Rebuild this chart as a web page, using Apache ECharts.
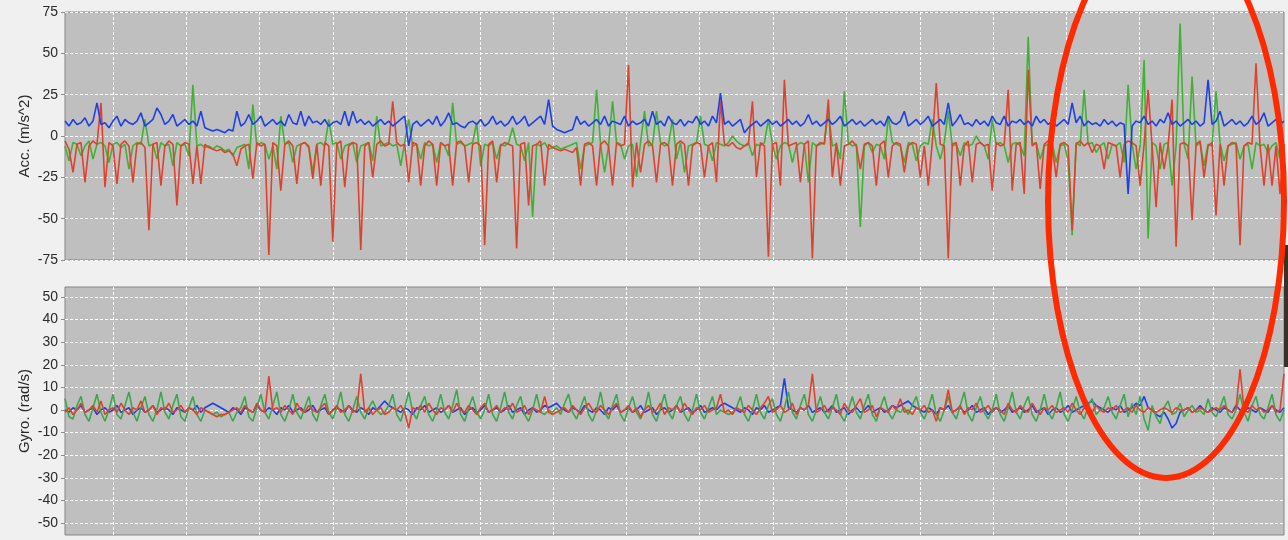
<!DOCTYPE html>
<html>
<head>
<meta charset="utf-8">
<script src="https://cdn.jsdelivr.net/npm/echarts@6/dist/echarts.min.js"></script>
<style>
  html, body { margin: 0; padding: 0; background: #f0f0f0; }
  #chart { width: 1288px; height: 540px; }
</style>
</head>
<body>
<div id="chart"></div>
<script>
// one value per sample
const accRed = [
  -3, -8, -22, -5, -4, -28, -6, -3, -5, 20,
  -31, -4, -6, -29, -5, -3, -6, -28, -5, -4,
  -7, -57, -5, -4, -30, -6, -3, -5, -42, -6,
  -4, -5, -29, -6, -29, -5, -7, -8, -9, -8,
  -10, -9, -11, -18, -8, -6, -5, -26, -4, -6,
  -5, -72, -4, -6, -33, -5, -3, -6, -29, -5,
  -4, -7, -26, -5, -30, -4, -6, -64, -5, -3,
  -31, -6, -4, -5, -69, -6, -4, -25, -5, -3,
  -6, -5, 21, -4, -6, -5, -28, -4, -5, -30,
  -6, -3, -5, -30, -4, -6, -5, -30, -4, -3,
  -6, -28, -5, -4, -6, -66, -5, -3, -28, -6,
  -4, -5, -6, -68, -5, -4, -42, -6, -5, -3,
  -30, -5, -7, -8, -9, -8, -9, -10, -7, -30,
  -5, -4, -6, -30, -5, -3, -6, -30, -4, -6,
  -5, 43, -31, -4, -22, -5, -3, -6, -28, -5,
  -4, -6, -30, -5, -3, -5, -30, -6, -4, -5,
  -25, -6, -4, -28, 21, -5, -6, -4, -7, -8,
  -6, -5, 21, -25, -4, -6, -73, -5, -4, -30,
  34, -6, -5, -4, -28, -5, -3, -74, -6, -4,
  -5, 22, -25, -4, -30, -6, -5, -3, -6, -20,
  -5, -4, -6, -30, -5, -3, -25, -6, -4, -5,
  -22, -6, -4, -5, -25, -6, -30, -4, 32, -5,
  -6, -74, -5, -4, -30, -6, -3, -28, -5, -4,
  -6, -5, -33, -4, -6, -5, 28, -33, -5, -4,
  -35, 40, -6, -4, -32, -5, -3, -6, -25, -5,
  -4, -6, -57, -5, -3, -6, -4, -10, -5, -6,
  -20, -4, -5, -6, -25, -5, -3, -4, -6, -30,
  -5, 28, -6, -43, -4, -20, -6, 22, -67, -5,
  -4, -6, -51, -5, -3, -25, -6, -4, -48, -5,
  -30, -6, -4, -5, -66, -6, -4, -5, 44, -6,
  -30, -5, -30, -6, -35, -5
];
const accGreen = [
  -6, -15, -4, -5, -12, -6, -3, -14, -5, -4,
  -6, -16, -5, -4, -7, -5, -20, -6, -4, -5,
  10, -6, -5, -14, -4, -6, -5, -18, -4, -6,
  -5, -12, 31, -6, -5, -7, -6, -8, -6, -7,
  -9, -8, -12, -7, -6, -5, -20, 19, -6, -4,
  -5, -14, -6, -20, 12, -5, -4, -16, -6, -5,
  -4, -6, -22, -5, -4, -6, 10, -5, -4, -14,
  -6, -5, -4, -16, -6, -5, -4, -15, 12, -6,
  -5, -4, -6, -5, -18, -4, 10, -6, -5, -14,
  -4, -6, -5, -16, -4, -6, -12, 20, -5, -4,
  -6, -5, -4, 8, -18, -5, -6, -4, -14, -5,
  -6, -4, 5, -5, -6, -15, -4, -49, -5, -6,
  -4, -8, -7, -6, -8, -7, -6, -5, -4, -20,
  -6, -5, -4, 28, -5, -22, -6, 21, -4, -5,
  -14, -6, -5, -25, -4, 15, -6, -5, 15, -4,
  -6, -5, 10, -14, -4, -22, -6, -5, -4, 12,
  -5, -6, -15, -4, -5, -6, -4, 0, -3, -5,
  -6, -4, -12, -5, -6, -4, 10, -5, -14, -6,
  -4, -5, -16, -6, -4, -5, -28, -4, -6, -5,
  -4, 15, -6, -5, -14, 27, -4, -6, -5, -55,
  -6, -4, -10, -5, -6, -14, 12, -4, -5, -6,
  -16, -4, -5, -15, -6, -4, -5, 10, -6, -14,
  -4, 15, -6, -5, -12, -4, -6, -5, 0, -4,
  -6, -14, 10, -5, -4, -6, -16, -5, -4, -6,
  -12, 60, -5, -4, -14, -6, -5, -4, -16, -6,
  -5, -15, -60, -4, -6, 28, -5, -4, -10, -6,
  -4, -14, -5, -6, -4, -16, 31, -5, -20, -6,
  46, -62, -4, -6, -20, -5, -4, -30, -6, 68,
  -5, -14, 36, -6, -4, -18, -5, -6, 27, -4,
  -15, -6, -5, -4, -14, -6, -5, -20, -4, -6,
  -5, -10, -6, -4, -14, -5
];
const accBlue = [
  9, 6, 10, 7, 8, 11, 6, 9, 20, 7,
  8, 5, 9, 12, 6, 10, 8, 7, 9, 14,
  6, 8, 10, 17, 13, 7, 9, 13, 6, 8,
  10, 7, 9, 6, 15, 5, 4, 3, 4, 3,
  2, 4, 3, 15, 6, 8, 13, 7, 9, 12,
  6, 8, 10, 7, 9, 6, 13, 8, 7, 15,
  6, 12, 8, 9, 7, 10, 6, 8, 9, 7,
  15, 6, 15, 8, 10, 7, 9, 6, 8, 10,
  7, 9, 6, 8, 10, 12, -6, 7, 9, 6,
  8, 10, 7, 12, 6, 9, 14, 7, 8, 6,
  5, 8, 9, 7, 10, 6, 8, 12, 7, 9,
  6, 8, 12, 7, 9, 12, 6, 8, 10, 12,
  7, 22, 6, 4, 3, 2, 3, 4, 12, 7,
  9, 6, 8, 10, 7, 12, 6, 9, 8, 7,
  12, 6, 9, 7, 8, 10, 6, 15, 7, 9,
  6, 12, 8, 7, 10, 6, 9, 8, 12, 7,
  9, 6, 12, 8, 26, 7, 9, 6, 8, 10,
  2, 5, 7, 9, 6, 8, 10, 7, 9, 6,
  8, 10, 7, 9, 6, 8, 13, 7, 9, 6,
  8, 10, 7, 9, 12, 6, 8, 10, 7, 9,
  6, 8, 10, 7, 9, 6, 12, 8, 7, 9,
  15, 6, 8, 10, 7, 9, 12, 6, 8, 10,
  7, 20, 6, 9, 13, 7, 8, 6, 10, 7,
  9, 6, 12, 8, 7, 12, 6, 9, 8, 10,
  7, 9, 6, 12, 8, 10, 7, 9, 6, 8,
  10, 7, 20, 8, 12, 6, 9, 7, 8, 6,
  10, 7, 9, 6, 8, 7, -35, 6, 9, 8,
  12, 7, 9, 6, 10, 8, 14, 7, 9, 6,
  8, 10, 7, 9, 6, 8, 34, 7, 9, 15,
  6, 8, 10, 7, 9, 6, 8, 12, 7, 9,
  14, 6, 8, 10, 7, 9
];

const gyroGreen = [
  5, -3, -4, 2, 6, -2, -5, 1, 7, -1,
  -5, 0, 7, -2, -4, 2, 8, -1, -5, 1,
  6, -2, -5, 0, 8, -1, -4, 2, 7, -3,
  -5, 1, 6, -2, -5, 0, -1, -2, -1, -3,
  -2, -1, -5, -1, 1, 6, -3, -5, 1, 7,
  -1, -4, 2, 8, -2, -5, 0, 7, -1, -4,
  1, 6, -2, -5, 2, 7, -1, -4, 1, 8,
  -2, -5, 0, 6, -1, -4, 1, 4, 0, -2,
  -1, 2, 7, -2, -5, 1, 8, -1, -4, 2,
  6, -2, -5, 0, 7, -1, -4, 2, 9, -2,
  -5, 1, 6, -1, -4, 0, 7, -2, -5, 1,
  8, -1, -4, 2, 6, -2, -5, 0, 7, -1,
  -2, 0, -1, 1, -2, 3, 7, -1, -4, 1,
  6, -2, -5, 0, 8, -1, -4, 2, 7, -2,
  -5, 1, 6, -1, -4, 0, 8, -2, -5, 1,
  7, -1, -4, 2, 6, -2, -5, 0, 7, -1,
  -4, 1, 6, -2, 0, -1, -2, -1, 1, 6,
  -2, -5, 0, 7, -1, -4, 2, 5, -2, -5,
  1, 8, -1, -4, 2, 7, -2, -5, 0, 6,
  -1, -4, 1, 7, -2, -5, 0, 6, -1, -4,
  2, 7, -2, -5, 1, 6, -1, -4, 0, -1,
  1, -2, 2, 6, -1, -4, 1, 7, -2, -5,
  0, 6, -1, -4, 2, 8, -2, -5, 1, 6,
  -1, -4, 0, 7, -2, -5, 1, 8, -1, -4,
  2, 6, -2, -5, 0, 7, -1, -4, 1, 8,
  -2, -5, 0, 6, -1, -4, 2, 5, -2, 0,
  1, 6, -1, -4, 2, 7, -3, 3, -2, 6,
  -4, -9, 2, -3, -6, 1, 4, -2, -1, 3,
  -3, 0, 2, -1, 0, -2, 5, -1, -3, 1,
  6, -2, -4, 0, 7, -1, -5, 2, 6, -2,
  -4, 1, 7, -2, -5, 0
];
const gyroRed = [
  -1, 1, -2, 0, 3, -1, 0, 2, -1, 4,
  -2, 0, 1, -1, 3, 0, -2, 1, 0, 4,
  -1, 0, 2, -2, 1, 0, 3, -1, 0, 2,
  -1, 1, 0, -2, 1, 0, -1, -2, -3, -2,
  -2, -1, 0, 1, -1, 2, 0, -1, 3, 0,
  -1, 15, 0, 1, -1, 2, 0, -2, 3, 0,
  -1, 2, 0, -1, 1, 3, -2, 0, 2, -1,
  0, 2, -1, 0, 16, -1, 1, -2, 0, 1,
  -2, -1, 1, 0, 2, -1, -8, 1, 0, 2,
  -1, 3, 0, -2, 1, 0, 2, -1, 3, 0,
  -1, 2, 0, -2, 1, 3, -1, 0, 2, -1,
  1, 0, 3, -1, 0, 2, -2, 1, 0, -1,
  6, -1, -2, -1, 0, 1, -1, 2, 0, -2,
  1, 3, 0, -1, 2, 0, -2, 1, 3, -1,
  0, 2, -1, 1, -3, 0, 2, -1, 0, 3,
  -2, 1, 0, 2, -1, 3, 0, -2, 1, 0,
  2, -1, 0, 1, 7, -1, 0, -2, 1, 0,
  -1, 2, 0, -2, 1, 3, 6, -1, 0, 2,
  -1, 0, 3, -2, 1, 0, 2, 16, -1, 0,
  2, -1, 1, 0, -2, 3, 0, -1, 2, 5,
  -1, 0, 2, -3, 1, 0, -1, 2, 0, 5,
  -1, 0, -2, 1, 0, 2, -1, 0, -5, 1,
  0, 9, -1, 0, 2, -2, 1, 0, 3, -1,
  0, 2, -1, 1, 0, -2, 3, 0, -1, 2,
  0, -1, 3, 0, -2, 1, 0, 2, -1, 0,
  1, -1, 3, 0, -2, 1, 0, -1, 2, 0,
  -1, 1, 0, 2, -1, 0, 1, -1, 2, 0,
  -1, 1, 0, -1, 0, 1, 0, -1, 1, 0,
  0, 1, -1, 0, 1, 0, -1, 0, 1, 0,
  2, 0, -1, 1, 18, 0, -1, 2, 0, 1,
  -1, 0, 2, -1, 0, 16
];
const gyroBlue = [
  0, -1, 1, 0, 2, -1, 0, 1, -2, 0,
  1, -1, 0, 2, -1, 0, 1, -2, 0, 1,
  -1, 0, 2, -1, 0, 1, 0, -2, 1, 0,
  -1, 1, 0, 2, -1, 1, 2, 3, 2, 1,
  0, -1, 1, 0, -2, 1, 0, -1, 2, 0,
  -1, 1, 0, -2, 1, 0, 2, -1, 0, 1,
  -1, 0, 2, -1, 0, 1, -2, 0, 1, 0,
  -1, 2, 0, -1, 1, 0, -2, 1, 0, 2,
  4, 2, 1, 0, -1, 1, 0, -2, 1, 0,
  2, -1, 0, 1, -1, 0, 2, -1, 0, 1,
  -2, 0, 1, -1, 0, 2, -1, 0, 1, -1,
  0, 2, -1, 0, 1, -2, 0, 1, -1, 0,
  2, 1, 2, 3, 1, 0, -1, 1, 0, -1,
  2, 0, -1, 1, 0, -2, 1, 0, 2, -1,
  0, 1, -1, 0, 2, -1, 0, 1, -2, 0,
  1, -1, 0, 2, -1, 0, 1, -1, 0, 2,
  -1, 0, 1, 0, 2, 3, 2, 1, 0, -1,
  1, 0, -2, 1, 0, 2, -1, 0, 1, 2,
  14, 1, 0, -1, 1, 0, 2, -1, 0, 1,
  -1, 0, 2, -1, 0, 1, -2, 0, 1, -1,
  0, 2, -1, 0, 1, -1, 0, 2, 1, 2,
  3, 4, 2, 1, 0, -1, 1, 0, -2, 1,
  0, 2, -1, 0, 1, -1, 0, 2, -1, 0,
  1, -2, 0, 1, -1, 0, 2, -1, 0, 1,
  -1, 0, 2, -1, 0, 1, -2, 0, 1, -1,
  0, 2, -1, 0, 1, 2, 3, 4, 2, 1,
  0, -1, 1, 0, 2, -1, 0, 1, 3, 2,
  6, 1, 0, -2, -3, -1, -4, -8, -6, -1,
  0, 1, -1, 0, 2, 0, -1, 1, 0, -1,
  1, 0, -1, 2, 0, -1, 1, 0, -1, 1,
  0, -1, 2, 0, -1, 1
];

const accTicks = [-75, -50, -25, 0, 25, 50, 75];
const gyroTicks = [-50, -40, -30, -20, -10, 0, 10, 20, 30, 40, 50];
const sampleGrid = [12, 30.35, 48.7, 67, 85.4, 103.8, 122.1, 140.5, 158.8, 177.2, 195.5, 213.9, 232.2, 250.6, 268.9, 287.3];

const chart = echarts.init(document.getElementById('chart'));

function pts(arr) {
  return arr.map((v, i) => [i, v]);
}

const font = 'Liberation Sans, Arial, sans-serif';
const dashed = { color: '#ffffff', type: [3, 2], width: 1 };

function xAx(idx) {
  return {
    type: 'value', gridIndex: idx, min: 0, max: accRed.length - 1,
    axisLine: { show: false },
    axisLabel: { show: false },
    axisTick: { show: false, customValues: sampleGrid },
    splitLine: { show: true, lineStyle: dashed }
  };
}

function yAx(idx, name, min, max, ticks) {
  return {
    type: 'value', gridIndex: idx, min: min, max: max,
    name: name, nameLocation: 'middle', nameGap: 40, nameMoveOverlap: false,
    nameTextStyle: { color: '#2a2a2a', fontSize: 15, fontFamily: font,
      verticalAlign: 'middle' },
    axisLine: { show: false },
    axisTick: { show: true, length: 4, customValues: ticks, lineStyle: { color: '#8a8a8a' } },
    axisLabel: { customValues: ticks, color: '#2a2a2a', fontSize: 14, fontFamily: font, margin: 7 },
    splitLine: { show: true, lineStyle: dashed }
  };
}

function line(name, data, color, xi, z) {
  return {
    name: name, type: 'line', xAxisIndex: xi, yAxisIndex: xi,
    data: pts(data), showSymbol: false, z: z,
    lineStyle: { color: color, width: 1.6 },
    emphasis: { disabled: true }
  };
}

chart.setOption({
  animation: false,
  backgroundColor: '#f0f0f0',
  grid: [
    { left: 65, top: 12, width: 1219, height: 248, show: true,
      backgroundColor: '#bfbfbf', borderColor: '#858585', borderWidth: 1 },
    { left: 65, top: 287, width: 1219, height: 248, show: true,
      backgroundColor: '#bfbfbf', borderColor: '#858585', borderWidth: 1 }
  ],
  xAxis: [xAx(0), xAx(1)],
  yAxis: [
    yAx(0, 'Acc. (m/s^2)', -75, 75, accTicks),
    yAx(1, 'Gyro. (rad/s)', -55.3, 54.4, gyroTicks)
  ],
  series: [
    line('acc z', accGreen, '#3fb234', 0, 2),
    line('acc y', accRed, '#e0412c', 0, 3),
    line('acc x', accBlue, '#1e3fe6', 0, 4),
    line('gyro x', gyroBlue, '#1e3fe6', 1, 2),
    line('gyro z', gyroGreen, '#3aa84a', 1, 3),
    line('gyro y', gyroRed, '#e0412c', 1, 4)
  ],
  graphic: [
    { type: 'rect', shape: { x: 1284, y: 245, width: 4, height: 122 },
      style: { fill: '#3b3026' }, z: 50 },
    { type: 'ellipse', shape: { cx: 1166, cy: 201, rx: 118, ry: 277 },
      style: { fill: 'none', stroke: '#ff2a00', lineWidth: 6 }, z: 100 }
  ]
});
</script>
</body>
</html>
